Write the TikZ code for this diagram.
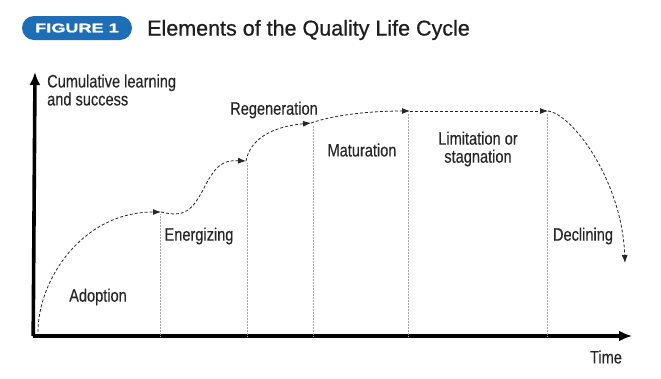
\documentclass[tikz,border=0pt]{standalone}
\usepackage{fontspec}
\setmainfont{Liberation Sans}
\newfontfamily\labfont[FakeStretch=0.81,FakeBold=0.3]{Liberation Sans}
\newfontfamily\titlefont[FakeBold=0.7]{Liberation Sans}
\newfontfamily\badgefont[FakeStretch=1.45,FakeBold=1.5]{Liberation Sans Bold}
\usetikzlibrary{arrows.meta}
\definecolor{badgeblue}{RGB}{30,110,182}
\definecolor{titlegray}{RGB}{30,30,30}
\tikzset{
  lab/.style={font=\labfont\fontsize{18}{18}\selectfont, text=black!85, inner sep=0pt, align=center},
  axisline/.style={line width=3.6pt, -{Latex[length=13pt,width=11pt]}},
  phase/.style={gray!70, line width=0.5pt, densely dotted},
  curve/.style={black!85, line width=0.8pt, dash pattern=on 3pt off 2pt, -{Latex[length=8pt,width=6pt]}},
}
\begin{document}
\begin{tikzpicture}[x=1pt,y=-1pt]
\useasboundingbox (0,0) rectangle (661,378);
% header
\node[fill=badgeblue, rounded corners=12pt, minimum width=110pt, minimum height=24pt, inner sep=0pt, text=white, font=\badgefont\fontsize{12.5}{14}\selectfont] (badge) at (77,28) {FIGURE 1};
\node[anchor=west, inner sep=0pt, text=titlegray, font=\titlefont\fontsize{21.5}{24}\selectfont] (title) at (147,30) {Elements of the Quality Life Cycle};
% axes
\coordinate (origin) at (35,336);
\coordinate (ytop) at (35,72);
\coordinate (xend) at (632,336);
\draw[axisline] ([xshift=-1.8pt]origin) -- (ytop);
\draw[axisline] ([xshift=-1.8pt]origin) -- (xend);
% curve points
\coordinate (c0) at (38,332);
\coordinate (c1) at (161,212);
\coordinate (c2) at (246,161);
\coordinate (c3) at (311,123);
\coordinate (c4) at (410,111);
\coordinate (c5) at (548,111);
\coordinate (c6) at (625,263);
% phase separators
\coordinate (b1) at (160,336);
\coordinate (b2) at (247,336);
\coordinate (b3) at (313,336);
\coordinate (b4) at (408,336);
\coordinate (b5) at (547,336);
\coordinate (t1) at (160,214);
\coordinate (t2) at (247,163);
\coordinate (t3) at (313,125);
\coordinate (t4) at (408,113);
\coordinate (t5) at (547,113);
\foreach \i in {1,...,5} \draw[phase] (b\i) -- (t\i);
% curve segments
\draw[curve] (c0) .. controls (38,280) and (82,212) .. (c1);
\draw[curve] (c1) .. controls (185,218) and (192,210) .. (203,190) .. controls (215,166) and (222,160) .. (c2);
\draw[curve] (c2) .. controls (250,140) and (270,127) .. (c3);
\draw[curve] (c3) .. controls (340,113) and (380,111) .. (c4);
\draw[curve] (c4) -- (c5);
\draw[curve] (c5) .. controls (572,114) and (622,180) .. (c6);
% labels
\node[lab, anchor=west, align=left] (ylab) at (47,90) {Cumulative learning\\and success};
\node[lab] (regen) at (274,110) {Regeneration};
\node[lab] (matur) at (362,150) {Maturation};
\node[lab] (limit) at (478,149) {Limitation or\\stagnation};
\node[lab] (energ) at (199,236) {Energizing};
\node[lab] (adopt) at (98,297) {Adoption};
\node[lab] (decl) at (583,236) {Declining};
\node[lab] (time) at (606,357) {Time};
\end{tikzpicture}
\end{document}
